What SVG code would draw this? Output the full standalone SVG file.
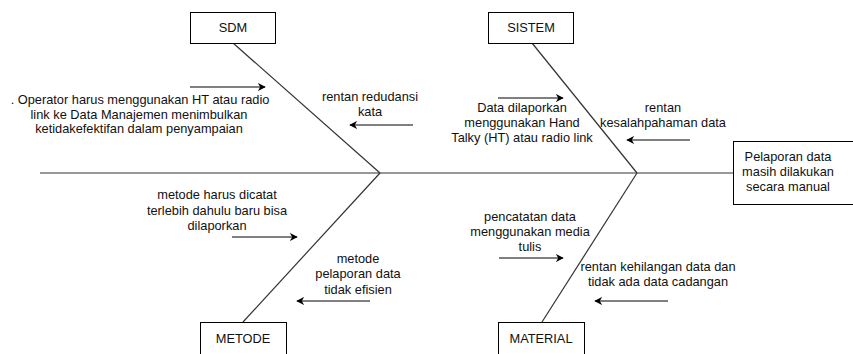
<svg xmlns="http://www.w3.org/2000/svg" width="853" height="354" viewBox="0 0 853 354">
<defs>
<marker id="ah" viewBox="0 0 10 10" refX="9" refY="5" markerWidth="8" markerHeight="8" markerUnits="userSpaceOnUse" orient="auto">
<path d="M0,0 L10,5 L0,10 L3,5 Z" fill="#000"/>
</marker>
</defs>
<style>
text{font-family:"Liberation Sans",Arial,sans-serif;font-size:12.8px;fill:#111;text-anchor:middle}
.box{fill:#fff;stroke:#000;stroke-width:1}
.ln{stroke:#333;stroke-width:1.2;fill:none}
.ar{stroke:#000;stroke-width:1;fill:none;marker-end:url(#ah)}
</style>
<rect width="853" height="354" fill="#fff"/>
<g id="connectors">
<line class="ln" x1="40" y1="173" x2="733" y2="173"/>
<line class="ln" x1="233" y1="43" x2="380" y2="173"/>
<line class="ln" x1="532" y1="43" x2="637" y2="173"/>
<line class="ln" x1="380" y1="173" x2="243" y2="322"/>
<line class="ln" x1="637" y1="173" x2="542" y2="322"/>
<line class="ar" x1="190" y1="87" x2="265" y2="87"/>
<line class="ar" x1="413" y1="125" x2="350" y2="125"/>
<line class="ar" x1="498" y1="98" x2="563" y2="98"/>
<line class="ar" x1="690" y1="140" x2="627" y2="140"/>
<line class="ar" x1="232" y1="237" x2="297" y2="237"/>
<line class="ar" x1="370" y1="301" x2="297" y2="301"/>
<line class="ar" x1="499" y1="258" x2="563" y2="258"/>
<line class="ar" x1="668" y1="301" x2="595" y2="301"/>
</g>
<g id="sdm"><rect class="box" x="190.5" y="12.5" width="85" height="31"/><text x="233" y="32">SDM</text></g>
<g id="sistem"><rect class="box" x="488.5" y="12.5" width="85" height="31"/><text x="531" y="32">SISTEM</text></g>
<g id="metode"><rect class="box" x="200.5" y="322.5" width="86" height="35"/><text x="243" y="343">METODE</text></g>
<g id="material"><rect class="box" x="498.5" y="322.5" width="86" height="35"/><text x="541" y="343">MATERIAL</text></g>
<g id="effect"><rect class="box" x="733.5" y="141.5" width="130" height="63"/>
<text x="788" y="161">Pelaporan data</text><text x="788" y="176">masih dilakukan</text><text x="788" y="191">secara manual</text></g>
<g id="sdm-cause1"><text x="140" y="104">. Operator harus menggunakan HT atau radio</text><text x="139" y="119">link ke Data Manajemen menimbulkan</text><text x="139" y="133">ketidakefektifan dalam penyampaian</text></g>
<g id="sdm-cause2"><text x="370" y="101">rentan redudansi</text><text x="370" y="116">kata</text></g>
<g id="sistem-cause1"><text x="522" y="112">Data dilaporkan</text><text x="522" y="127">menggunakan Hand</text><text x="522" y="142">Talky (HT) atau radio link</text></g>
<g id="sistem-cause2"><text x="663" y="112">rentan</text><text x="663" y="127">kesalahpahaman data</text></g>
<g id="metode-cause1"><text x="217" y="199">metode harus dicatat</text><text x="217" y="215">terlebih dahulu baru bisa</text><text x="217" y="230">dilaporkan</text></g>
<g id="metode-cause2"><text x="358" y="263">metode</text><text x="358" y="278">pelaporan data</text><text x="358" y="294">tidak efisien</text></g>
<g id="material-cause1"><text x="530" y="221">pencatatan data</text><text x="530" y="236">menggunakan media</text><text x="530" y="251">tulis</text></g>
<g id="material-cause2"><text x="658" y="271">rentan kehilangan data dan</text><text x="658" y="286">tidak ada data cadangan</text></g>
</svg>
